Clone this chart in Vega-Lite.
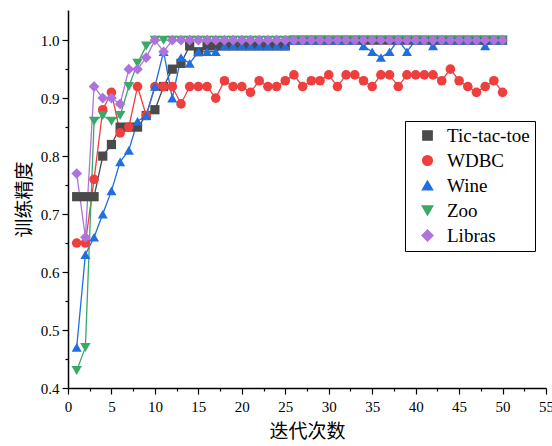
{
  "$schema": "https://vega.github.io/schema/vega-lite/v6.json",
  "autosize": "none",
  "width": 478,
  "height": 378,
  "padding": {"left": 68, "top": 10, "right": 6, "bottom": 58},
  "background": "white",
  "config": {"view": {"stroke": null}},
  "data": {"values": [
    {"s":"Tic-tac-toe","x":1,"y":0.73},{"s":"Tic-tac-toe","x":2,"y":0.73},{"s":"Tic-tac-toe","x":3,"y":0.73},{"s":"Tic-tac-toe","x":4,"y":0.80},{"s":"Tic-tac-toe","x":5,"y":0.82},
    {"s":"Tic-tac-toe","x":6,"y":0.85},{"s":"Tic-tac-toe","x":7,"y":0.85},{"s":"Tic-tac-toe","x":8,"y":0.85},{"s":"Tic-tac-toe","x":9,"y":0.87},{"s":"Tic-tac-toe","x":10,"y":0.88},
    {"s":"Tic-tac-toe","x":11,"y":0.92},{"s":"Tic-tac-toe","x":12,"y":0.95},{"s":"Tic-tac-toe","x":13,"y":0.96},{"s":"Tic-tac-toe","x":14,"y":0.99},{"s":"Tic-tac-toe","x":15,"y":0.98},
    {"s":"Tic-tac-toe","x":16,"y":0.99},{"s":"Tic-tac-toe","x":17,"y":0.99},{"s":"Tic-tac-toe","x":18,"y":0.99},{"s":"Tic-tac-toe","x":19,"y":0.99},{"s":"Tic-tac-toe","x":20,"y":0.99},
    {"s":"Tic-tac-toe","x":21,"y":0.99},{"s":"Tic-tac-toe","x":22,"y":0.99},{"s":"Tic-tac-toe","x":23,"y":0.99},{"s":"Tic-tac-toe","x":24,"y":0.99},{"s":"Tic-tac-toe","x":25,"y":0.99},
    {"s":"Tic-tac-toe","x":26,"y":1.0},{"s":"Tic-tac-toe","x":27,"y":1.0},{"s":"Tic-tac-toe","x":28,"y":1.0},{"s":"Tic-tac-toe","x":29,"y":1.0},{"s":"Tic-tac-toe","x":30,"y":1.0},
    {"s":"Tic-tac-toe","x":31,"y":1.0},{"s":"Tic-tac-toe","x":32,"y":1.0},{"s":"Tic-tac-toe","x":33,"y":1.0},{"s":"Tic-tac-toe","x":34,"y":1.0},{"s":"Tic-tac-toe","x":35,"y":1.0},
    {"s":"Tic-tac-toe","x":36,"y":1.0},{"s":"Tic-tac-toe","x":37,"y":1.0},{"s":"Tic-tac-toe","x":38,"y":1.0},{"s":"Tic-tac-toe","x":39,"y":1.0},{"s":"Tic-tac-toe","x":40,"y":1.0},
    {"s":"Tic-tac-toe","x":41,"y":1.0},{"s":"Tic-tac-toe","x":42,"y":1.0},{"s":"Tic-tac-toe","x":43,"y":1.0},{"s":"Tic-tac-toe","x":44,"y":1.0},{"s":"Tic-tac-toe","x":45,"y":1.0},
    {"s":"Tic-tac-toe","x":46,"y":1.0},{"s":"Tic-tac-toe","x":47,"y":1.0},{"s":"Tic-tac-toe","x":48,"y":1.0},{"s":"Tic-tac-toe","x":49,"y":1.0},{"s":"Tic-tac-toe","x":50,"y":1.0},

    {"s":"WDBC","x":1,"y":0.65},{"s":"WDBC","x":2,"y":0.65},{"s":"WDBC","x":3,"y":0.76},{"s":"WDBC","x":4,"y":0.88},{"s":"WDBC","x":5,"y":0.91},
    {"s":"WDBC","x":6,"y":0.84},{"s":"WDBC","x":7,"y":0.85},{"s":"WDBC","x":8,"y":0.92},{"s":"WDBC","x":9,"y":0.87},{"s":"WDBC","x":10,"y":0.92},
    {"s":"WDBC","x":11,"y":0.92},{"s":"WDBC","x":12,"y":0.92},{"s":"WDBC","x":13,"y":0.89},{"s":"WDBC","x":14,"y":0.92},{"s":"WDBC","x":15,"y":0.92},
    {"s":"WDBC","x":16,"y":0.92},{"s":"WDBC","x":17,"y":0.90},{"s":"WDBC","x":18,"y":0.93},{"s":"WDBC","x":19,"y":0.92},{"s":"WDBC","x":20,"y":0.92},
    {"s":"WDBC","x":21,"y":0.91},{"s":"WDBC","x":22,"y":0.93},{"s":"WDBC","x":23,"y":0.92},{"s":"WDBC","x":24,"y":0.92},{"s":"WDBC","x":25,"y":0.93},
    {"s":"WDBC","x":26,"y":0.94},{"s":"WDBC","x":27,"y":0.92},{"s":"WDBC","x":28,"y":0.93},{"s":"WDBC","x":29,"y":0.93},{"s":"WDBC","x":30,"y":0.94},
    {"s":"WDBC","x":31,"y":0.92},{"s":"WDBC","x":32,"y":0.94},{"s":"WDBC","x":33,"y":0.94},{"s":"WDBC","x":34,"y":0.93},{"s":"WDBC","x":35,"y":0.92},
    {"s":"WDBC","x":36,"y":0.94},{"s":"WDBC","x":37,"y":0.94},{"s":"WDBC","x":38,"y":0.92},{"s":"WDBC","x":39,"y":0.94},{"s":"WDBC","x":40,"y":0.94},
    {"s":"WDBC","x":41,"y":0.94},{"s":"WDBC","x":42,"y":0.94},{"s":"WDBC","x":43,"y":0.93},{"s":"WDBC","x":44,"y":0.95},{"s":"WDBC","x":45,"y":0.93},
    {"s":"WDBC","x":46,"y":0.92},{"s":"WDBC","x":47,"y":0.91},{"s":"WDBC","x":48,"y":0.92},{"s":"WDBC","x":49,"y":0.93},{"s":"WDBC","x":50,"y":0.91},

    {"s":"Wine","x":1,"y":0.47},{"s":"Wine","x":2,"y":0.63},{"s":"Wine","x":3,"y":0.66},{"s":"Wine","x":4,"y":0.70},{"s":"Wine","x":5,"y":0.74},
    {"s":"Wine","x":6,"y":0.79},{"s":"Wine","x":7,"y":0.81},{"s":"Wine","x":8,"y":0.86},{"s":"Wine","x":9,"y":0.87},{"s":"Wine","x":10,"y":0.92},
    {"s":"Wine","x":11,"y":0.98},{"s":"Wine","x":12,"y":0.90},{"s":"Wine","x":13,"y":0.97},{"s":"Wine","x":14,"y":0.96},{"s":"Wine","x":15,"y":0.98},
    {"s":"Wine","x":16,"y":0.98},{"s":"Wine","x":17,"y":0.98},{"s":"Wine","x":18,"y":0.99},{"s":"Wine","x":19,"y":0.99},{"s":"Wine","x":20,"y":0.99},
    {"s":"Wine","x":21,"y":0.99},{"s":"Wine","x":22,"y":0.99},{"s":"Wine","x":23,"y":0.99},{"s":"Wine","x":24,"y":0.99},{"s":"Wine","x":25,"y":0.99},
    {"s":"Wine","x":26,"y":1.0},{"s":"Wine","x":27,"y":1.0},{"s":"Wine","x":28,"y":1.0},{"s":"Wine","x":29,"y":1.0},{"s":"Wine","x":30,"y":1.0},
    {"s":"Wine","x":31,"y":1.0},{"s":"Wine","x":32,"y":1.0},{"s":"Wine","x":33,"y":1.0},{"s":"Wine","x":34,"y":0.99},{"s":"Wine","x":35,"y":0.98},
    {"s":"Wine","x":36,"y":0.97},{"s":"Wine","x":37,"y":0.98},{"s":"Wine","x":38,"y":1.0},{"s":"Wine","x":39,"y":0.98},{"s":"Wine","x":40,"y":1.0},
    {"s":"Wine","x":41,"y":1.0},{"s":"Wine","x":42,"y":0.99},{"s":"Wine","x":43,"y":1.0},{"s":"Wine","x":44,"y":1.0},{"s":"Wine","x":45,"y":1.0},
    {"s":"Wine","x":46,"y":1.0},{"s":"Wine","x":47,"y":1.0},{"s":"Wine","x":48,"y":0.99},{"s":"Wine","x":49,"y":1.0},{"s":"Wine","x":50,"y":1.0},

    {"s":"Zoo","x":1,"y":0.43},{"s":"Zoo","x":2,"y":0.47},{"s":"Zoo","x":3,"y":0.86},{"s":"Zoo","x":4,"y":0.87},{"s":"Zoo","x":5,"y":0.86},
    {"s":"Zoo","x":6,"y":0.87},{"s":"Zoo","x":7,"y":0.92},{"s":"Zoo","x":8,"y":0.96},{"s":"Zoo","x":9,"y":0.99},{"s":"Zoo","x":10,"y":1.0},
    {"s":"Zoo","x":11,"y":1.0},{"s":"Zoo","x":12,"y":1.0},{"s":"Zoo","x":13,"y":1.0},{"s":"Zoo","x":14,"y":1.0},{"s":"Zoo","x":15,"y":1.0},
    {"s":"Zoo","x":16,"y":1.0},{"s":"Zoo","x":17,"y":1.0},{"s":"Zoo","x":18,"y":1.0},{"s":"Zoo","x":19,"y":1.0},{"s":"Zoo","x":20,"y":1.0},
    {"s":"Zoo","x":21,"y":1.0},{"s":"Zoo","x":22,"y":1.0},{"s":"Zoo","x":23,"y":1.0},{"s":"Zoo","x":24,"y":1.0},{"s":"Zoo","x":25,"y":1.0},
    {"s":"Zoo","x":26,"y":1.0},{"s":"Zoo","x":27,"y":1.0},{"s":"Zoo","x":28,"y":1.0},{"s":"Zoo","x":29,"y":1.0},{"s":"Zoo","x":30,"y":1.0},
    {"s":"Zoo","x":31,"y":1.0},{"s":"Zoo","x":32,"y":1.0},{"s":"Zoo","x":33,"y":1.0},{"s":"Zoo","x":34,"y":1.0},{"s":"Zoo","x":35,"y":1.0},
    {"s":"Zoo","x":36,"y":1.0},{"s":"Zoo","x":37,"y":1.0},{"s":"Zoo","x":38,"y":1.0},{"s":"Zoo","x":39,"y":1.0},{"s":"Zoo","x":40,"y":1.0},
    {"s":"Zoo","x":41,"y":1.0},{"s":"Zoo","x":42,"y":1.0},{"s":"Zoo","x":43,"y":1.0},{"s":"Zoo","x":44,"y":1.0},{"s":"Zoo","x":45,"y":1.0},
    {"s":"Zoo","x":46,"y":1.0},{"s":"Zoo","x":47,"y":1.0},{"s":"Zoo","x":48,"y":1.0},{"s":"Zoo","x":49,"y":1.0},{"s":"Zoo","x":50,"y":1.0},

    {"s":"Libras","x":1,"y":0.77},{"s":"Libras","x":2,"y":0.66},{"s":"Libras","x":3,"y":0.92},{"s":"Libras","x":4,"y":0.90},{"s":"Libras","x":5,"y":0.90},
    {"s":"Libras","x":6,"y":0.89},{"s":"Libras","x":7,"y":0.95},{"s":"Libras","x":8,"y":0.95},{"s":"Libras","x":9,"y":0.97},{"s":"Libras","x":10,"y":1.0},
    {"s":"Libras","x":11,"y":0.98},{"s":"Libras","x":12,"y":1.0},{"s":"Libras","x":13,"y":1.0},{"s":"Libras","x":14,"y":1.0},{"s":"Libras","x":15,"y":1.0},
    {"s":"Libras","x":16,"y":1.0},{"s":"Libras","x":17,"y":1.0},{"s":"Libras","x":18,"y":1.0},{"s":"Libras","x":19,"y":1.0},{"s":"Libras","x":20,"y":1.0},
    {"s":"Libras","x":21,"y":1.0},{"s":"Libras","x":22,"y":1.0},{"s":"Libras","x":23,"y":1.0},{"s":"Libras","x":24,"y":1.0},{"s":"Libras","x":25,"y":1.0},
    {"s":"Libras","x":26,"y":1.0},{"s":"Libras","x":27,"y":1.0},{"s":"Libras","x":28,"y":1.0},{"s":"Libras","x":29,"y":1.0},{"s":"Libras","x":30,"y":1.0},
    {"s":"Libras","x":31,"y":1.0},{"s":"Libras","x":32,"y":1.0},{"s":"Libras","x":33,"y":1.0},{"s":"Libras","x":34,"y":1.0},{"s":"Libras","x":35,"y":1.0},
    {"s":"Libras","x":36,"y":1.0},{"s":"Libras","x":37,"y":1.0},{"s":"Libras","x":38,"y":1.0},{"s":"Libras","x":39,"y":1.0},{"s":"Libras","x":40,"y":1.0},
    {"s":"Libras","x":41,"y":1.0},{"s":"Libras","x":42,"y":1.0},{"s":"Libras","x":43,"y":1.0},{"s":"Libras","x":44,"y":1.0},{"s":"Libras","x":45,"y":1.0},
    {"s":"Libras","x":46,"y":1.0},{"s":"Libras","x":47,"y":1.0},{"s":"Libras","x":48,"y":1.0},{"s":"Libras","x":49,"y":1.0},{"s":"Libras","x":50,"y":1.0}
  ]},
  "encoding": {
    "x": {
      "field": "x", "type": "quantitative",
      "scale": {"domain": [0, 55], "nice": false, "zero": false},
      "axis": {
        "title": "迭代次数",
        "titleFont": "Noto Sans CJK SC", "titleFontSize": 19, "titleFontWeight": "normal", "titleColor": "black", "titlePadding": 8,
        "values": [0,2.5,5,7.5,10,12.5,15,17.5,20,22.5,25,27.5,30,32.5,35,37.5,40,42.5,45,47.5,50,52.5,55],
        "labelExpr": "datum.value % 5 === 0 ? datum.label : ''",
        "labelFont": "Liberation Serif", "labelFontSize": 15, "labelColor": "black", "labelPadding": 5, "labelOverlap": false, "labelFlush": false,
        "tickSize": {"condition": {"test": "datum.value % 5 === 0", "value": 6}, "value": 3},
        "tickColor": "black", "tickWidth": 1.2,
        "domainColor": "black", "domainWidth": 1.5, "grid": false
      }
    },
    "y": {
      "field": "y", "type": "quantitative",
      "scale": {"domain": [0.4, 1.052], "nice": false, "zero": false},
      "axis": {
        "title": "训练精度",
        "titleFont": "Noto Sans CJK SC", "titleFontSize": 19, "titleFontWeight": "normal", "titleColor": "black", "titlePadding": 6,
        "values": [0.4,0.45,0.5,0.55,0.6,0.65,0.7,0.75,0.8,0.85,0.9,0.95,1.0],
        "format": ".1f",
        "labelExpr": "abs(datum.value*10 - round(datum.value*10)) < 0.001 ? datum.label : ''",
        "labelFont": "Liberation Serif", "labelFontSize": 15, "labelColor": "black", "labelPadding": 3, "labelOverlap": false, "labelFlush": false,
        "tickSize": {"condition": {"test": "abs(datum.value*10 - round(datum.value*10)) < 0.001", "value": 6}, "value": 3},
        "tickColor": "black", "tickWidth": 1.2,
        "domainColor": "black", "domainWidth": 1.5, "grid": false
      }
    },
    "color": {
      "field": "s", "type": "nominal",
      "scale": {"domain": ["Tic-tac-toe","WDBC","Wine","Zoo","Libras"], "range": ["#4a4a4a","#ef3e3e","#1f6fe0","#3aa866","#ad72dc"]},
      "legend": {
        "orient": "none", "legendX": 337, "legendY": 111, "title": null,
        "padding": 5, "strokeColor": "black", "fillColor": "white",
        "labelFont": "Liberation Serif", "labelFontSize": 19, "labelColor": "black", "labelOffset": 10, "rowPadding": 5,
        "symbolSize": 130, "symbolOffset": 8
      }
    }
  },
  "layer": [
    {
      "mark": {"type": "line", "strokeWidth": 1.3},
      "encoding": {"detail": {"field": "s"}}
    },
    {
      "mark": {"type": "point", "filled": true, "opacity": 1},
      "encoding": {
        "size": {"field": "s", "type": "ordinal", "legend": null,
          "scale": {"domain": ["Tic-tac-toe","WDBC","Wine","Zoo","Libras"], "range": [85, 115, 140, 140, 150]}},
        "shape": {"field": "s", "type": "nominal",
          "scale": {"domain": ["Tic-tac-toe","WDBC","Wine","Zoo","Libras"], "range": ["square","circle","triangle-up","triangle-down","diamond"]},
          "legend": {
            "orient": "none", "legendX": 337, "legendY": 111, "title": null,
            "padding": 5, "strokeColor": "black", "fillColor": "white",
            "labelFont": "Liberation Serif", "labelFontSize": 19, "labelColor": "black", "labelOffset": 10, "rowPadding": 5,
            "symbolSize": 130, "symbolOffset": 8
          }
        }
      }
    }
  ]
}
